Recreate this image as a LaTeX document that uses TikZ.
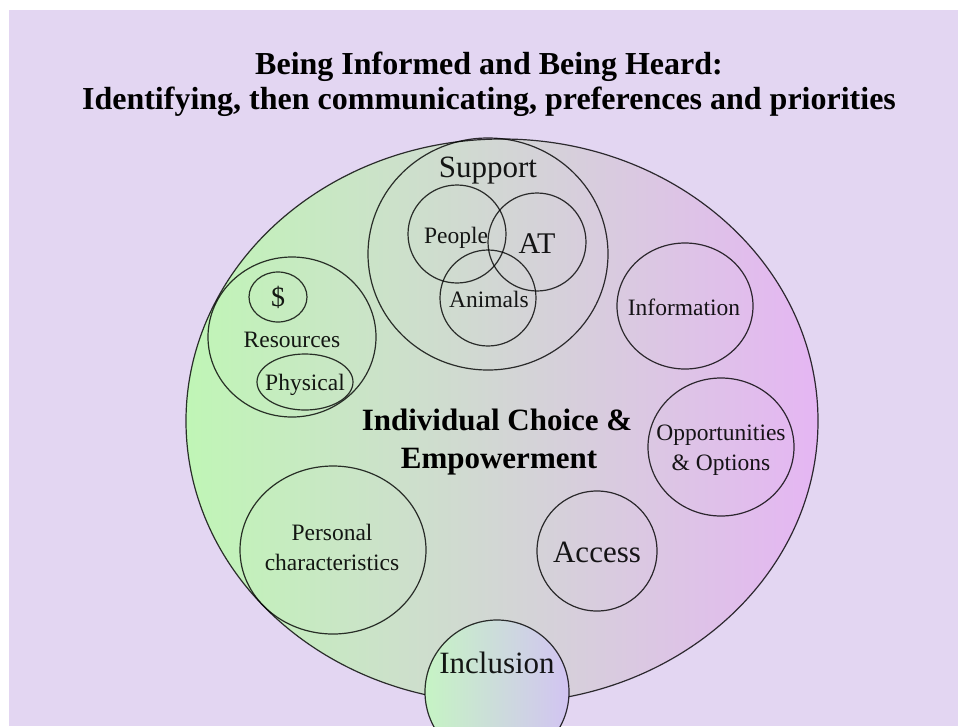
\documentclass[tikz,border=0pt]{standalone}
\usepackage{fontspec}
\setmainfont{Liberation Serif}
\usetikzlibrary{shapes.geometric}

\definecolor{lavenderbg}{RGB}{227,214,242}
\definecolor{leafgreen}{RGB}{192,246,182}
\definecolor{midgrey}{RGB}{221,223,224}
\definecolor{orchid}{RGB}{229,182,243}
\definecolor{incgreen}{RGB}{198,244,196}
\definecolor{inclav}{RGB}{210,196,242}

\begin{document}
\begin{tikzpicture}[x=1pt,y=-1pt,
  ring/.style={draw=black, draw opacity=0.8, line width=1.2pt, inner sep=0pt, outer sep=0pt},
  oval/.style 2 args={ring, ellipse, minimum width=#1, minimum height=#2},
  lbl/.style={anchor=base, inner sep=0pt, text=black, text opacity=0.9,
              font=\fontsize{23.5}{28}\selectfont},
  biglbl/.style={lbl, font=\fontsize{31}{37}\selectfont},
  headline/.style={anchor=base, inner sep=0pt, text=black,
                   font=\fontsize{32}{38}\selectfont\bfseries},
  corelbl/.style={anchor=base, inner sep=0pt, text=black,
                  font=\fontsize{31}{37}\selectfont\bfseries}]

  % page and backdrop
  \useasboundingbox (0,0) rectangle (958,726);
  \clip (0,0) rectangle (958,726);
  \fill[white] (0,0) rectangle (958,726);
  \fill[lavenderbg] (9,10) rectangle (958,726);

  % title
  \node[headline] (title1) at (489,74) {Being Informed and Being Heard:};
  \node[headline] (title2) at (489,109) {Identifying, then communicating, preferences and priorities};

  % main oval with its green-to-orchid shading
  \node[ring, ellipse, minimum width=632pt, minimum height=564pt,
        left color=leafgreen, middle color=midgrey, right color=orchid] (core) at (502,421) {};

  % support cluster
  \node[oval={240pt}{232pt}] (support) at (488,254) {};
  \node[oval={98pt}{98pt}] (people) at (457,234) {};
  \node[oval={98pt}{98pt}] (at) at (537,242) {};
  \node[oval={96pt}{96pt}] (animals) at (488,298) {};
  \node[biglbl] (supportlbl) at (488,177) {Support};
  \node[lbl] (peoplelbl) at (456,243) {People};
  \node[biglbl, font=\fontsize{30}{36}\selectfont] (atlbl) at (537,253) {AT};
  \node[lbl] (animalslbl) at (489,307) {Animals};

  % resources cluster
  \node[oval={168pt}{160pt}] (resources) at (292,337) {};
  \node[oval={58pt}{50pt}] (money) at (278,297) {};
  \node[oval={96pt}{56pt}] (physical) at (305,382) {};
  \node[lbl, font=\fontsize{28}{32}\selectfont] (moneylbl) at (278,306) {\$};
  \node[lbl] (resourceslbl) at (292,347) {Resources};
  \node[lbl] (physicallbl) at (305,390) {Physical};

  % right-hand circles
  \node[oval={136pt}{126pt}] (information) at (685,306) {};
  \node[lbl] (informationlbl) at (684,315) {Information};
  \node[oval={146pt}{138pt}] (opportunities) at (721,447) {};
  \node[lbl] (opportunitieslbl) at (721,440) {Opportunities};
  \node[lbl] (optionslbl) at (721,470) {\& Options};
  \node[oval={120pt}{120pt}] (access) at (597,551) {};
  \node[biglbl] (accesslbl) at (597,562) {Access};

  % left-hand circle
  \node[oval={186pt}{168pt}] (personal) at (333,550) {};
  \node[lbl] (personallbl) at (332,540) {Personal};
  \node[lbl] (characteristicslbl) at (332,570) {characteristics};

  % centre caption
  \node[corelbl] (choice) at (497,430) {Individual Choice \&};
  \node[corelbl] (empower) at (499,468) {Empowerment};

  % inclusion circle overlapping the rim
  \node[ring, circle, minimum size=144pt,
        left color=incgreen, middle color=incgreen!50!inclav, right color=inclav] (inclusion) at (497,692) {};
  \node[biglbl] (inclusionlbl) at (497,673) {Inclusion};
\end{tikzpicture}
\end{document}
